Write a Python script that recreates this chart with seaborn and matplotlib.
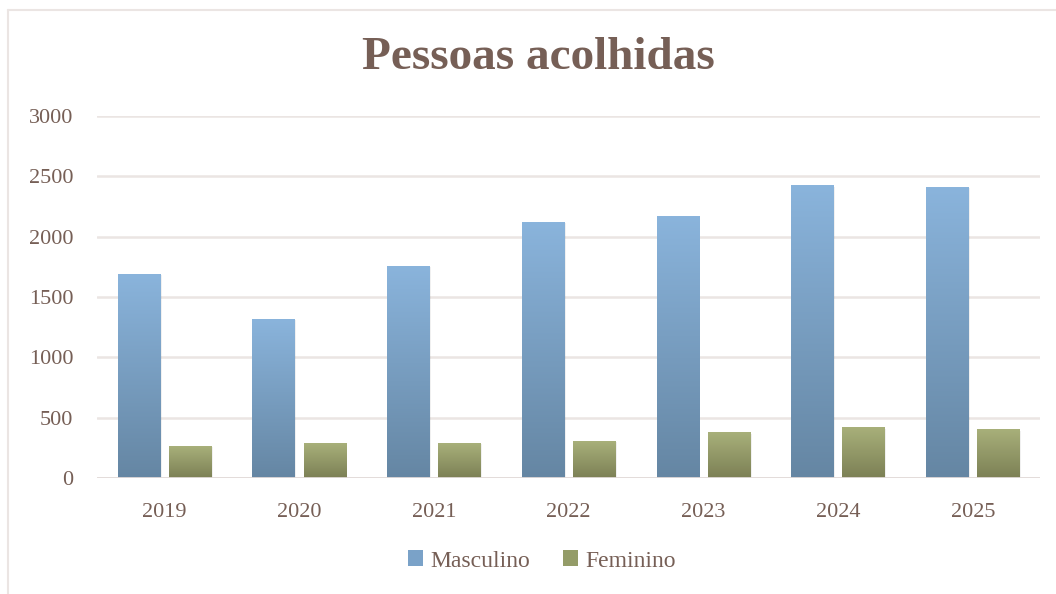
import seaborn as sns
import matplotlib.pyplot as plt
import matplotlib.colors as mcolors
from matplotlib.lines import Line2D
from matplotlib.patches import Patch
import pandas as pd
import numpy as np

# --- data ---
years = ["2019", "2020", "2021", "2022", "2023", "2024", "2025"]
series = ["Masculino", "Feminino"]
masculino = [1690, 1315, 1755, 2120, 2170, 2420, 2410]
feminino = [265, 290, 290, 305, 375, 415, 400]
yticks = [0, 500, 1000, 1500, 2000, 2500, 3000]

df = pd.DataFrame({
    "ano": years * 2,
    "valor": masculino + feminino,
    "sexo": [series[0]] * len(years) + [series[1]] * len(years),
})

# --- colours ---
text_color = "#765f56"
grid_color = "#ebe5e3"
frame_color = "#ebe5e3"
# (bottom, top) of the vertical gradient for each series
gradients = {"Masculino": ("#6586a3", "#8ab4dc"), "Feminino": ("#7c8055", "#a8b07a")}
solid = {"Masculino": "#7aa2c8", "Feminino": "#949c68"}

sns.set_style("white")
plt.rcParams["font.family"] = ["Liberation Serif", "DejaVu Serif"]

fig = plt.figure(figsize=(10.56, 5.94), dpi=100)
ax = fig.add_axes([0.092, 0.195, 0.893, 0.6095])

sns.barplot(
    data=df, x="ano", y="valor", hue="sexo", hue_order=series,
    palette=[solid[s] for s in series], width=0.76, gap=0.17,
    legend=False, ax=ax, zorder=3,
)

# replace flat fills by a top-to-bottom gradient
ramp = np.linspace(0, 1, 256).reshape(-1, 1)
for name, container in zip(series, ax.containers):
    cmap = mcolors.LinearSegmentedColormap.from_list(name, gradients[name])
    for bar in container:
        x, w, h = bar.get_x(), bar.get_width(), bar.get_height()
        # soft shadow
        ax.add_patch(plt.Rectangle((x + 0.01, -8), w, h, color="#000000",
                                   alpha=0.06, lw=0, zorder=2))
        ax.imshow(ramp, extent=[x, x + w, 0, h], origin="lower", cmap=cmap,
                  aspect="auto", zorder=4, interpolation="bilinear")
        bar.set_alpha(0)

ax.set_xlim(-0.5, len(years) - 0.5)
ax.set_ylim(0, 3000)
ax.set_yticks(yticks)
ax.yaxis.grid(True, color=grid_color, lw=1.8, zorder=0)
ax.axhline(0, color="#e2dbd9", lw=2, zorder=5)
sns.despine(ax=ax, left=True, bottom=True)

ax.set_xlabel("")
ax.set_ylabel("")
ax.tick_params(axis="y", length=0, pad=17, labelsize=16, labelcolor=text_color)
ax.tick_params(axis="x", length=0, pad=18, labelsize=16, labelcolor=text_color)

fig.text(0.51, 1 - 58 / 594, "Pessoas acolhidas", ha="center", va="center",
         fontsize=34, fontweight="bold", color=text_color)

handles = [Patch(facecolor=solid[s], edgecolor="none", label=s) for s in series]
fig.legend(handles=handles, loc="center", bbox_to_anchor=(0.513, 1 - 561 / 594),
           ncol=2, frameon=False, fontsize=17, handlelength=0.65, handleheight=0.65,
           handletextpad=0.3, columnspacing=1.4, labelcolor=text_color)

# light outer frame of the chart area
fig.add_artist(Line2D([8 / 1056, 8 / 1056], [0, 1 - 10 / 594], color=frame_color, lw=1.5))
fig.add_artist(Line2D([8 / 1056, 1], [1 - 10 / 594, 1 - 10 / 594], color=frame_color, lw=1.5))

fig.savefig("out.png", dpi=100)
